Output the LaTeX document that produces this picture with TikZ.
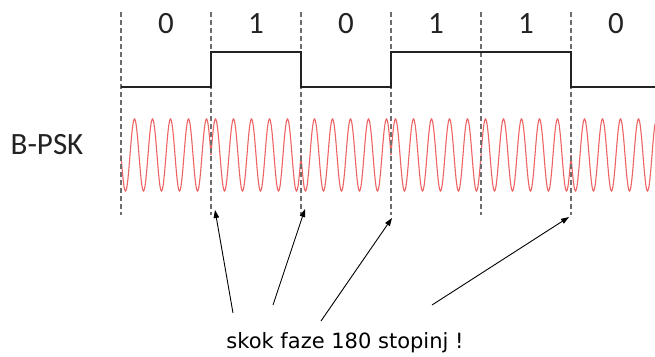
\documentclass[tikz,border=0pt]{standalone}
\usepackage{fontspec}
\usetikzlibrary{arrows.meta}
\newfontfamily\labfont{Carlito}
\newfontfamily\txtfont{DejaVu Sans}
\definecolor{wavered}{RGB}{236,100,100}
\definecolor{dashgray}{RGB}{110,110,110}
\definecolor{sigdark}{RGB}{35,35,35}
\begin{document}
\begin{tikzpicture}[x=1pt,y=-1pt,
  bitline/.style={dashgray, line width=1.1pt, dash pattern=on 5pt off 3pt},
  digit/.style={font=\labfont\fontsize{31}{31}\selectfont, anchor=base, inner sep=0pt, text=sigdark},
  squarewave/.style={sigdark, line width=1.8pt, line join=miter},
  carrier/.style={wavered, line width=1.1pt},
  jump/.style={black, line width=0.9pt, -{Triangle[length=8pt,width=5.5pt]}},
  caption/.style={font=\txtfont\fontsize{21}{21}\selectfont, anchor=base, inner sep=0pt},
  bpsk/.style={font=\labfont\fontsize{31}{31}\selectfont, anchor=base, inner sep=0pt, text=sigdark}]
\useasboundingbox (0,0) rectangle (655,356);
% carrier
\draw[carrier] plot[domain=121:211, samples=181] (\x, {155+36*sin(20*(\x-121))});
\draw[carrier] plot[domain=211:301, samples=181] (\x, {155-36*sin(20*(\x-121))});
\draw[carrier] plot[domain=301:391, samples=181] (\x, {155+36*sin(20*(\x-121))});
\draw[carrier] plot[domain=391:571, samples=361] (\x, {155-36*sin(20*(\x-121))});
\draw[carrier] plot[domain=571:655, samples=169] (\x, {155+36*sin(20*(\x-121))});
% bit boundaries
\foreach \i in {0,...,5} {
  \coordinate (t\i) at (121+90*\i, 12);
  \coordinate (b\i) at (121+90*\i, 215);
  \draw[bitline] (t\i) -- (b\i);
}
% digits
\foreach \d [count=\i from 0] in {0,1,0,1,1,0}
  \node[digit] (d\i) at (166+90*\i, 33) {\d};
% square wave
\draw[squarewave] (121,87) -- (211,87) -- (211,52) -- (301,52) -- (301,87) -- (391,87) -- (391,52) -- (571,52) -- (571,87) -- (655,87);
% label
\node[bpsk] (bp) at (47,154) {B-PSK};
% caption and arrows
\node[caption] (cap) at (345,348) {skok faze 180 stopinj !};
\coordinate (s1) at (233,313); \coordinate (h1) at (215,210);
\coordinate (s2) at (273,305); \coordinate (h2) at (305,209);
\coordinate (s3) at (321,321); \coordinate (h3) at (392,218);
\coordinate (s4) at (432,305); \coordinate (h4) at (569,217);
\draw[jump] (s1) -- (h1);
\draw[jump] (s2) -- (h2);
\draw[jump] (s3) -- (h3);
\draw[jump] (s4) -- (h4);
\end{tikzpicture}
\end{document}
